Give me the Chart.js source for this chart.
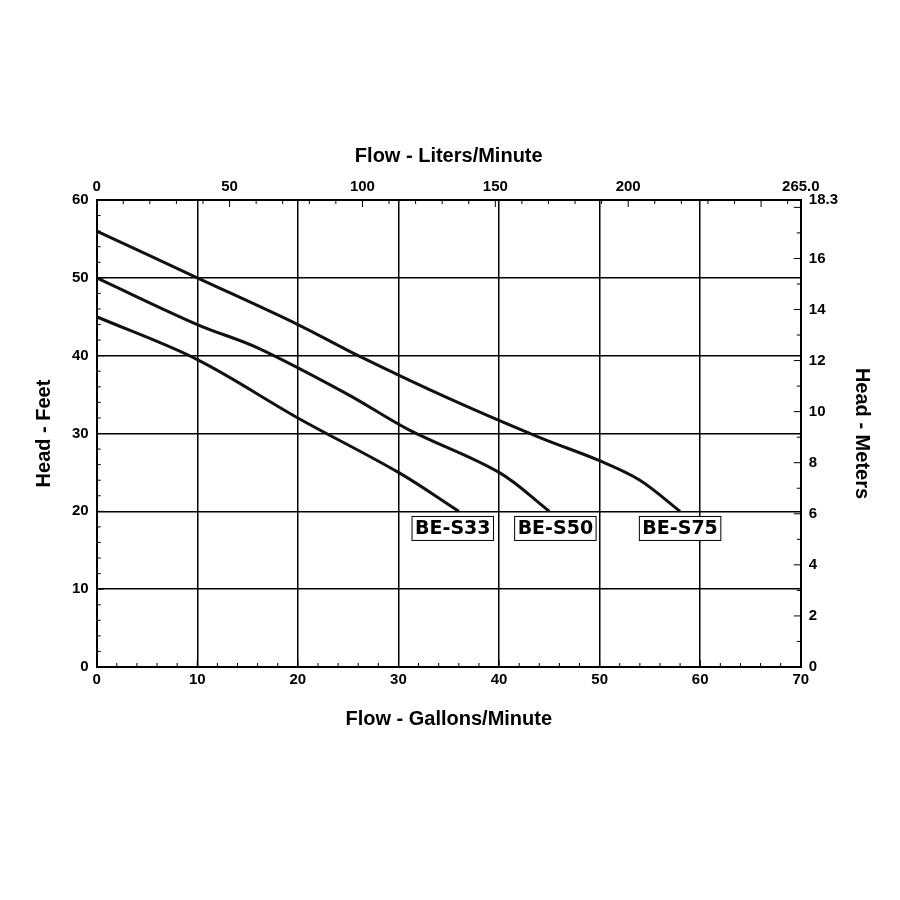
<!DOCTYPE html>
<html>
<head>
<meta charset="utf-8">
<script src="https://cdn.jsdelivr.net/npm/chart.js@4"></script>
<style>
  body { margin: 0; background: #fff; }
  #wrap { width: 900px; height: 900px; }
</style>
</head>
<body>
<div id="wrap"><canvas id="c"></canvas></div>
<script>
// Flow in gallons/minute, head in feet
const s33Flow = [0, 10, 20, 30, 36];
const s33Head = [45, 39.5, 32, 25, 20];
const s50Flow = [0, 10, 16, 25, 31, 40, 45];
const s50Head = [50, 44, 41, 35, 30.5, 25, 20];
const s75Flow = [0, 10, 20, 26, 35, 44, 50, 54, 58];
const s75Head = [56, 50, 44, 40, 34.5, 29.5, 26.5, 24, 20];
const labelNames = ['BE-S33', 'BE-S50', 'BE-S75'];
const labelFlow = [35.4, 45.6, 58.0];
const labelHead = [17.8, 17.8, 17.8];

const LPG = 3.785;   // liters per gallon
const MPF = 0.3048;  // meters per foot
const GPM_MAX = 70, FT_MAX = 60;

const toPts = (xs, ys) => xs.map((x, i) => ({ x: x, y: ys[i] }));
const curve = (name, xs, ys) => ({
  label: name, data: toPts(xs, ys), borderColor: '#111', borderWidth: 3,
  pointRadius: 0, tension: 0.35, fill: false, xAxisID: 'x', yAxisID: 'y'
});

// minor ticks and curve labels
const extras = {
  id: 'extras',
  afterDraw(chart) {
    const ctx = chart.ctx, a = chart.chartArea, s = chart.scales;
    ctx.save();
    ctx.strokeStyle = '#000';
    ctx.lineWidth = 1;
    ctx.beginPath();
    for (let g = 0; g <= GPM_MAX; g += 2) {
      const x = s.x.getPixelForValue(g), len = g % 10 === 0 ? 7 : 4;
      ctx.moveTo(x, a.bottom); ctx.lineTo(x, a.bottom - len);
    }
    for (let l = 0; l <= GPM_MAX * LPG; l += 10) {
      const x = s.x.getPixelForValue(l / LPG), len = l % 50 === 0 ? 7 : 4;
      ctx.moveTo(x, a.top); ctx.lineTo(x, a.top + len);
    }
    for (let f = 0; f <= FT_MAX; f += 2) {
      const y = s.y.getPixelForValue(f), len = f % 10 === 0 ? 7 : 4;
      ctx.moveTo(a.left, y); ctx.lineTo(a.left + len, y);
    }
    for (let m = 0; m <= 18; m += 1) {
      const y = s.y.getPixelForValue(m / MPF), len = m % 2 === 0 ? 7 : 4;
      ctx.moveTo(a.right, y); ctx.lineTo(a.right - len, y);
    }
    ctx.stroke();

    ctx.font = 'bold 19px "DejaVu Sans"';
    ctx.textAlign = 'center';
    ctx.textBaseline = 'middle';
    labelNames.forEach((t, i) => {
      const x = s.x.getPixelForValue(labelFlow[i]);
      const y = s.y.getPixelForValue(labelHead[i]);
      const w = ctx.measureText(t).width + 6;
      ctx.fillStyle = '#fff';
      ctx.fillRect(x - w / 2, y - 12, w, 24);
      ctx.strokeRect(x - w / 2, y - 12, w, 24);
      ctx.fillStyle = '#000';
      ctx.fillText(t, x, y + 1);
    });
    ctx.restore();
  }
};

const tickFont = { family: 'Liberation Sans', size: 15, weight: 'bold' };
const titleFont = { family: 'Liberation Sans', size: 20, weight: 'bold' };

new Chart(document.getElementById('c'), {
  type: 'line',
  data: {
    datasets: [
      curve('BE-S33', s33Flow, s33Head),
      curve('BE-S50', s50Flow, s50Head),
      curve('BE-S75', s75Flow, s75Head)
    ]
  },
  options: {
    responsive: true,
    maintainAspectRatio: false,
    animation: false,
    layout: { padding: { left: 28, right: 18, top: 140, bottom: 165 } },
    plugins: { legend: { display: false }, tooltip: { enabled: false } },
    scales: {
      x: {
        type: 'linear', position: 'bottom', min: 0, max: GPM_MAX,
        ticks: { stepSize: 10, color: '#000', font: tickFont, padding: 4 },
        grid: { color: '#000', lineWidth: 1.5, drawTicks: false },
        border: { color: '#000', width: 2 },
        title: { display: true, text: 'Flow - Gallons/Minute', color: '#000', font: titleFont, padding: { top: 14 } }
      },
      x2: {
        type: 'linear', position: 'top', min: 0, max: GPM_MAX * LPG,
        ticks: { stepSize: 50, color: '#000', font: tickFont, padding: 4 },
        grid: { display: false, drawTicks: false },
        border: { color: '#000', width: 2 },
        title: { display: true, text: 'Flow - Liters/Minute', color: '#000', font: titleFont, padding: { bottom: 6 } }
      },
      y: {
        type: 'linear', position: 'left', min: 0, max: FT_MAX,
        ticks: { stepSize: 10, color: '#000', font: tickFont, padding: 8 },
        grid: { color: '#000', lineWidth: 1.5, drawTicks: false },
        border: { color: '#000', width: 2 },
        title: { display: true, text: 'Head - Feet', color: '#000', font: titleFont, padding: { bottom: 8 } }
      },
      y2: {
        type: 'linear', position: 'right', min: 0, max: FT_MAX * MPF,
        ticks: { stepSize: 2, color: '#000', font: tickFont, padding: 8 },
        grid: { display: false, drawTicks: false },
        border: { color: '#000', width: 2 },
        title: { display: true, text: 'Head - Meters', color: '#000', font: titleFont, padding: { top: 8 } }
      }
    }
  },
  plugins: [extras]
});
</script>
</body>
</html>
